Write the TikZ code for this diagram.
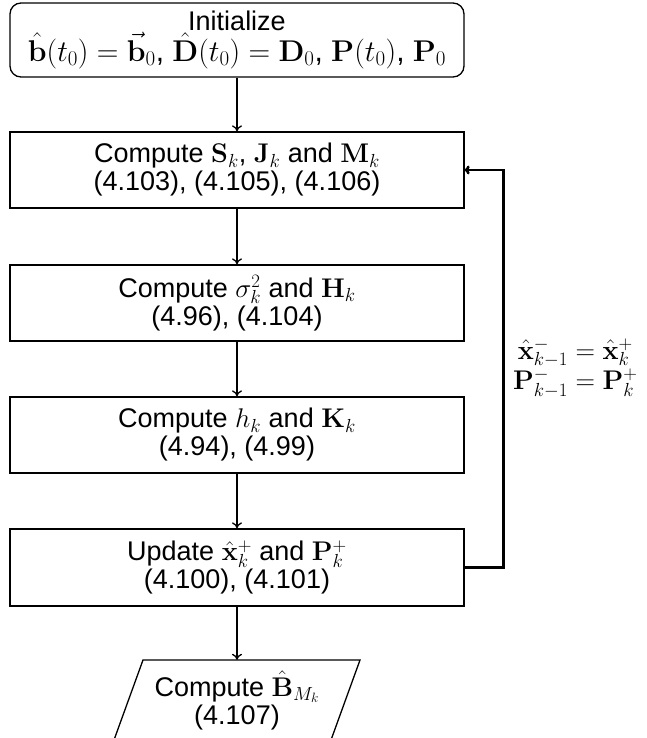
\documentclass[tikz,border=0pt]{standalone}
\usepackage{fix-cm}
\usepackage[no-math]{fontspec}
\setmainfont{Liberation Sans}
\usetikzlibrary{arrows.meta}

\tikzset{
  txt/.style={font=\fontsize{27}{28}\selectfont, align=center},
  procbox/.style={txt, draw, line width=1.3pt, minimum width=454pt,
    minimum height=75pt, inner sep=0pt},
  flow/.style={line width=1.3pt, -{To[length=6pt,width=10pt]}},
  loopback/.style={line width=2.6pt, -{To[length=5pt,width=9pt]}},
}

\begin{document}
\begin{tikzpicture}[x=1pt,y=-1pt]
  \useasboundingbox (0,0) rectangle (646,738);
  \clip (0,0) rectangle (646,738);

  % initialisation
  \node[procbox, rounded corners=11pt, minimum height=74pt] (init) at (237,40)
    {Initialize\\
     {\fontsize{30}{30}\selectfont
     $\hat{\mathbf{b}}(t_0)=\vec{\mathbf{b}}_0$, $\hat{\mathbf{D}}(t_0)=\mathbf{D}_0$, $\mathbf{P}(t_0)$, $\mathbf{P}_0$}};

  % processing steps
  \node[procbox, minimum height=76pt] (sjm) at (237,170)
    {Compute $\mathbf{S}_k$, $\mathbf{J}_k$ and $\mathbf{M}_k$\\(4.103), (4.105), (4.106)};
  \node[procbox, minimum height=76pt] (sh) at (237,303)
    {Compute $\sigma_k^2$ and $\mathbf{H}_k$\\(4.96), (4.104)};
  \node[procbox, minimum height=76pt] (hk) at (237,435)
    {Compute $h_k$ and $\mathbf{K}_k$\\(4.94), (4.99)};
  \node[procbox, minimum height=77pt] (upd) at (237,567.5)
    {Update $\hat{\mathbf{x}}_k^+$ and $\mathbf{P}_k^+$\\(4.100), (4.101)};

  % output (parallelogram)
  \node[txt, minimum height=80pt, inner sep=0pt] (out) at (237,700)
    {Compute $\hat{\mathbf{B}}_{M_k}$\\(4.107)};
  \draw[line width=1.3pt] (143,660) -- (360,660) -- (331,740) -- (114,740) -- cycle;

  % main flow
  \draw[flow] (init) -- (sjm);
  \draw[flow] (sjm) -- (sh);
  \draw[flow] (sh) -- (hk);
  \draw[flow] (hk) -- (upd);
  \draw[flow] (upd) -- (out.north);

  % feedback loop
  \draw[loopback] (upd.east) -- ++(39,0) coordinate (fbc) |- (sjm.east);
  \node[txt, anchor=west, inner sep=0pt] (lbl) at (513,368)
    {$\hat{\mathbf{x}}^-_{k-1}=\hat{\mathbf{x}}^+_k$\\$\mathbf{P}^-_{k-1}=\mathbf{P}^+_k$};
\end{tikzpicture}
\end{document}
